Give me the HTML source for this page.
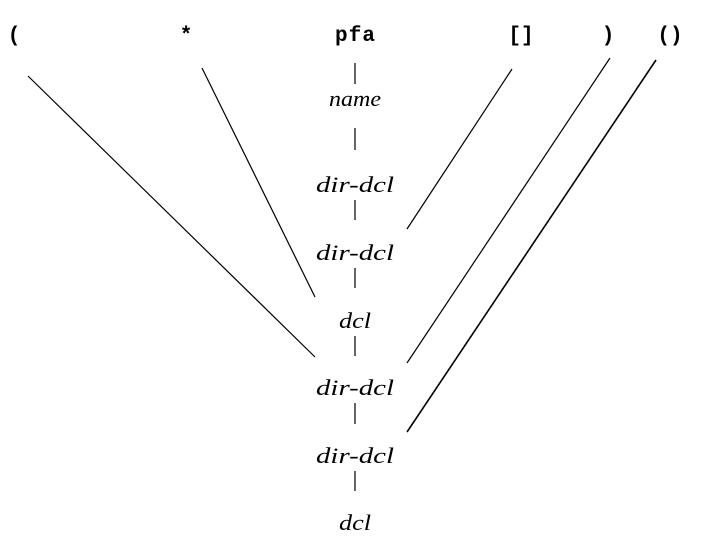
<!DOCTYPE html>
<html><head><style>html,body{margin:0;padding:0;background:#fff}</style></head><body>
<svg width="703" height="552" xmlns="http://www.w3.org/2000/svg">
<g font-family="Liberation Mono, monospace" font-weight="bold" font-size="21" fill="#000" text-anchor="middle">
<text x="14" y="41">(</text>
<text x="186" y="41">*</text>
<text x="355" y="41" textLength="40">pfa</text>
<text x="521" y="41">[]</text>
<text x="608" y="41">)</text>
<text x="670" y="41">()</text>
</g>
<g font-family="Liberation Serif, serif" font-style="italic" font-size="22" fill="#000" text-anchor="middle">
<text x="355" y="106" textLength="52" lengthAdjust="spacingAndGlyphs">name</text>
<text x="355" y="192" textLength="78" lengthAdjust="spacingAndGlyphs">dir-dcl</text>
<text x="355" y="260" textLength="78" lengthAdjust="spacingAndGlyphs">dir-dcl</text>
<text x="355" y="328" textLength="32" lengthAdjust="spacingAndGlyphs">dcl</text>
<text x="355" y="395" textLength="78" lengthAdjust="spacingAndGlyphs">dir-dcl</text>
<text x="355" y="463" textLength="78" lengthAdjust="spacingAndGlyphs">dir-dcl</text>
<text x="355" y="530" textLength="32" lengthAdjust="spacingAndGlyphs">dcl</text>
</g>
<g stroke="#000" stroke-width="1.2" fill="none">
<line x1="355" y1="63" x2="355" y2="84"/>
<line x1="355" y1="128" x2="355" y2="150"/>
<line x1="355" y1="200" x2="355" y2="220"/>
<line x1="355" y1="268" x2="355" y2="288"/>
<line x1="355" y1="336" x2="355" y2="356"/>
<line x1="355" y1="403" x2="355" y2="424"/>
<line x1="355" y1="471" x2="355" y2="491"/>
<line x1="28" y1="76" x2="315" y2="357"/>
<line x1="202" y1="68" x2="315" y2="297"/>
<line x1="512" y1="69" x2="407" y2="229"/>
<line x1="610" y1="58" x2="407" y2="363"/>
<line x1="656" y1="60" x2="407" y2="432" stroke-width="1.6"/>
</g>
</svg>
</body></html>
